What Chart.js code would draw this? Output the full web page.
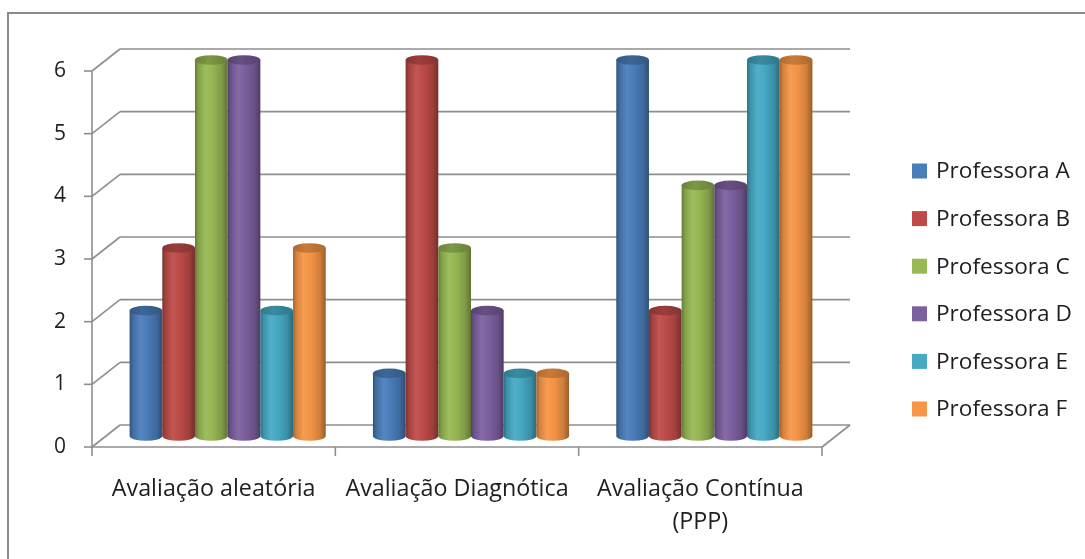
<!DOCTYPE html>
<html>
<head>
<meta charset="utf-8">
<script src="https://cdn.jsdelivr.net/npm/chart.js@4.4.1/dist/chart.umd.min.js"></script>
<style>
  html, body { margin: 0; padding: 0; background: #ffffff; overflow: hidden; }
  #wrap { position: relative; width: 1085px; height: 559px; }
</style>
</head>
<body>
<div id="wrap"><canvas id="chart" width="1085" height="559"></canvas></div>
<script>
// Categories (multi-line labels as arrays)
const categories = [
  ['Avaliação aleatória'],
  ['Avaliação Diagnótica'],
  ['Avaliação Contínua', '(PPP)']
];

// Series
const seriesNames = ['Professora A', 'Professora B', 'Professora C', 'Professora D', 'Professora E', 'Professora F'];
const professoraA = [2, 1, 6];
const professoraB = [3, 6, 2];
const professoraC = [6, 3, 4];
const professoraD = [6, 2, 4];
const professoraE = [2, 1, 6];
const professoraF = [3, 1, 6];
const seriesValues = [professoraA, professoraB, professoraC, professoraD, professoraE, professoraF];

// Value axis ticks
const yTicks = [0, 1, 2, 3, 4, 5, 6];

const seriesColors = ['#4a7ebb', '#be4b48', '#98b954', '#7d60a0', '#46aac5', '#f79646'];

// ---- styling / geometry ----
const FONT = '"Open Sans", Lato, "DejaVu Sans", sans-serif';
const TEXT_COLOR = '#1e1e1e';
const GRID_COLOR = '#8e8e8e';
const DEPTH_X = 14;   // half-depth offset of the 3D box (x)
const DEPTH_Y = 11;   // half-depth offset of the 3D box (y)

function shade(hex, f) {
  const n = parseInt(hex.slice(1), 16);
  let r = (n >> 16) & 255, g = (n >> 8) & 255, b = n & 255;
  if (f <= 1) { r *= f; g *= f; b *= f; }
  else { const t = f - 1; r += (255 - r) * t; g += (255 - g) * t; b += (255 - b) * t; }
  return 'rgb(' + Math.round(r) + ',' + Math.round(g) + ',' + Math.round(b) + ')';
}

function line(ctx, x1, y1, x2, y2) {
  ctx.beginPath();
  ctx.moveTo(x1, y1);
  ctx.lineTo(x2, y2);
  ctx.stroke();
}

const box3d = {
  id: 'box3d',
  beforeDatasetsDraw(chart) {
    const ctx = chart.ctx;
    const xs = chart.scales.x, ys = chart.scales.y;
    const L = chart.chartArea.left, R = chart.chartArea.right;
    const y0 = ys.getPixelForValue(0);
    const yTop = ys.getPixelForValue(yTicks[yTicks.length - 1]);

    ctx.save();
    // outer frame
    ctx.strokeStyle = '#8a8a8a';
    ctx.lineWidth = 2;
    ctx.strokeRect(8, 13, 1200, 700);

    ctx.strokeStyle = GRID_COLOR;
    ctx.lineWidth = 1.6;
    // back wall lines + side wall connectors
    yTicks.forEach(v => {
      const py = ys.getPixelForValue(v);
      line(ctx, L + DEPTH_X, py - DEPTH_Y, R + DEPTH_X, py - DEPTH_Y);
      line(ctx, L - DEPTH_X, py + DEPTH_Y, L + DEPTH_X, py - DEPTH_Y);
    });
    // floor front edge and right floor edge
    line(ctx, L - DEPTH_X, y0 + DEPTH_Y, R - DEPTH_X, y0 + DEPTH_Y);
    line(ctx, R - DEPTH_X, y0 + DEPTH_Y, R + DEPTH_X, y0 - DEPTH_Y);
    // front value axis
    line(ctx, L - DEPTH_X, y0 + DEPTH_Y + 1, L - DEPTH_X, yTop + DEPTH_Y);
    // value ticks
    yTicks.forEach(v => {
      const py = ys.getPixelForValue(v) + DEPTH_Y;
      line(ctx, L - DEPTH_X - 8, py, L - DEPTH_X, py);
    });
    // category boundary ticks
    const n = categories.length;
    const step = (xs.getPixelForValue(n - 1) - xs.getPixelForValue(0)) / Math.max(1, n - 1);
    for (let i = 0; i <= n; i++) {
      const bx = xs.getPixelForValue(0) - step / 2 + i * step - DEPTH_X;
      line(ctx, bx, y0 + DEPTH_Y, bx, y0 + DEPTH_Y + 9);
    }

    // value labels
    ctx.fillStyle = TEXT_COLOR;
    ctx.font = '21px ' + FONT;
    ctx.textAlign = 'right';
    ctx.textBaseline = 'middle';
    yTicks.forEach(v => {
      ctx.fillText(String(v), L - DEPTH_X - 26, ys.getPixelForValue(v) + DEPTH_Y);
    });

    // category labels
    ctx.textAlign = 'center';
    ctx.font = '23.3px ' + FONT;
    categories.forEach((lbl, i) => {
      const cx = xs.getPixelForValue(i) - DEPTH_X;
      lbl.forEach((t, k) => {
        ctx.fillText(t, cx, y0 + DEPTH_Y + 42 + k * 33);
      });
    });

    // legend
    ctx.textAlign = 'left';
    ctx.font = '22.6px ' + FONT;
    chart.data.datasets.forEach((ds, i) => {
      const cy = 171 + i * 47.6;
      ctx.fillStyle = ds.backgroundColor;
      ctx.fillRect(912, cy - 7.5, 15, 15);
      ctx.fillStyle = TEXT_COLOR;
      ctx.fillText(ds.label, 936, cy + 1);
    });
    ctx.restore();
  },
  beforeDatasetDraw() {
    // bars are painted as cylinders below
    return false;
  },
  afterDatasetsDraw(chart) {
    const ctx = chart.ctx;
    const metas = chart.data.datasets.map((_, i) => chart.getDatasetMeta(i));
    const nCat = categories.length;
    ctx.save();
    for (let c = 0; c < nCat; c++) {
      metas.forEach((meta, s) => {
        const el = meta.data[c];
        const p = el.getProps(['x', 'y', 'base', 'width'], true);
        const col = seriesColors[s];
        const rx = p.width / 2, ry = 4.8;
        const left = p.x - rx, right = p.x + rx;

        const g = ctx.createLinearGradient(left, 0, right, 0);
        g.addColorStop(0, shade(col, 0.66));
        g.addColorStop(0.1, shade(col, 0.86));
        g.addColorStop(0.32, shade(col, 1.06));
        g.addColorStop(0.55, shade(col, 0.98));
        g.addColorStop(0.82, shade(col, 0.84));
        g.addColorStop(1, shade(col, 0.62));

        ctx.beginPath();
        ctx.moveTo(left, p.y);
        ctx.lineTo(left, p.base);
        ctx.ellipse(p.x, p.base, rx, ry, 0, Math.PI, 0, true);
        ctx.lineTo(right, p.y);
        ctx.closePath();
        ctx.fillStyle = g;
        ctx.fill();

        const gt = ctx.createLinearGradient(left, 0, right, 0);
        gt.addColorStop(0, shade(col, 0.7));
        gt.addColorStop(0.4, shade(col, 0.82));
        gt.addColorStop(1, shade(col, 0.7));
        ctx.beginPath();
        ctx.ellipse(p.x, p.y, rx, ry, 0, 0, Math.PI * 2);
        ctx.fillStyle = gt;
        ctx.fill();
      });
    }
    ctx.restore();
  }
};

const datasets = seriesNames.map((name, i) => ({
  label: name,
  data: seriesValues[i],
  backgroundColor: seriesColors[i],
  borderWidth: 0,
  barPercentage: 1.0,
  categoryPercentage: 0.806
}));

new Chart(document.getElementById('chart'), {
  type: 'bar',
  data: { labels: categories, datasets },
  options: {
    responsive: false,
    animation: false,
    devicePixelRatio: 1,
    layout: { padding: { left: 106, right: 249, top: 60, bottom: 123 } },
    plugins: { legend: { display: false }, tooltip: { enabled: false } },
    scales: {
      x: { display: false },
      y: { display: false, min: 0, max: 6 }
    }
  },
  plugins: [box3d]
});
</script>
</body>
</html>
